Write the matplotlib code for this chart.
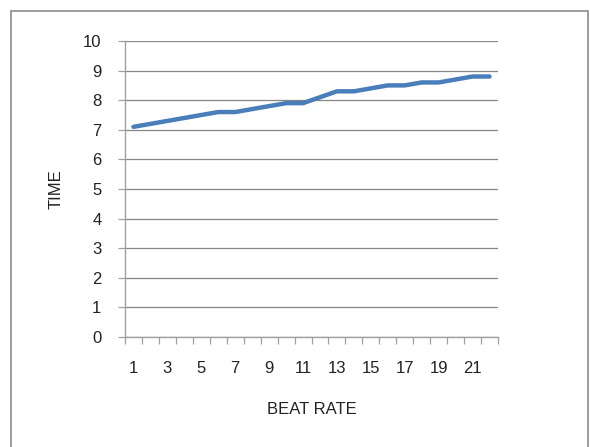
import matplotlib.pyplot as plt
from matplotlib.patches import Rectangle
import numpy as np

plt.rcParams['font.family'] = ['Liberation Sans', 'DejaVu Sans']

# beat rate categories and measured time
beat_rate = list(range(1, 23))
time_vals = [7.1, 7.2, 7.3, 7.4, 7.5, 7.6, 7.6, 7.7, 7.8, 7.9, 7.9,
             8.1, 8.3, 8.3, 8.4, 8.5, 8.5, 8.6, 8.6, 8.7, 8.8, 8.8]
y_ticks = list(range(0, 11))
x_labels = [str(v) for v in beat_rate[::2]]

fig = plt.figure(figsize=(5.9, 4.47), dpi=100)
ax = fig.add_axes([125 / 590, 1 - 337 / 447, 373 / 590, 296 / 447])

# chart border
fig.patches.append(Rectangle((11 / 590, -0.05), 577 / 590, 1 - 11 / 447 + 0.05,
                             transform=fig.transFigure, fill=False,
                             edgecolor='#8c8c8c', linewidth=1.2))

x = np.arange(len(beat_rate))
ax.plot(x, time_vals, color='#4a7ebb', linewidth=3.2, solid_capstyle='round')

ax.set_xlim(-0.5, len(beat_rate) - 0.5)
ax.set_ylim(0, 10)
ax.set_yticks(y_ticks)
ax.grid(axis='y', color='#868686', linewidth=0.9)
ax.set_axisbelow(True)

fs = 12
ax.set_xticks(x[::2])
ax.set_xticklabels(x_labels)
ax.set_xticks(np.arange(len(beat_rate) + 1) - 0.5, minor=True)
ax.tick_params(axis='x', which='major', length=0, pad=17, labelsize=fs, labelcolor='#222222')
ax.tick_params(axis='x', which='minor', length=5, color='#a0a0a0', width=0.9)
ax.tick_params(axis='y', length=5, color='#a0a0a0', width=0.9, pad=12,
               labelsize=fs, labelcolor='#222222')

for side in ['top', 'right']:
    ax.spines[side].set_visible(False)
for side in ['left', 'bottom']:
    ax.spines[side].set_color('#a0a0a0')
    ax.spines[side].set_linewidth(1.0)

ax.set_xlabel('BEAT RATE', fontsize=fs, color='#222222', labelpad=19)
ax.set_ylabel('TIME', fontsize=fs, color='#222222', labelpad=14)

fig.savefig('out.png', dpi=100)
